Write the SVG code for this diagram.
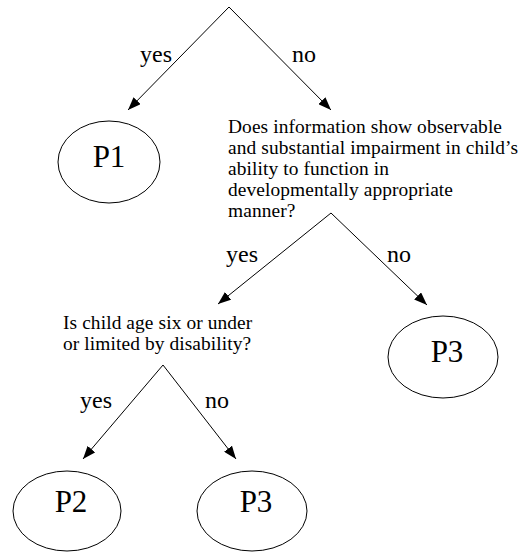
<svg xmlns="http://www.w3.org/2000/svg" width="522" height="552" viewBox="0 0 522 552">
  <style>
    .edge { stroke: #000; stroke-width: 1; fill: none; marker-end: url(#arrow); }
    .oval { fill: #fff; stroke: #000; stroke-width: 1; }
    .plabel { font-family: "Liberation Serif", "Times New Roman", serif; font-size: 31px; fill: #000; text-anchor: middle; }
    .elabel { font-family: "Liberation Serif", "Times New Roman", serif; font-size: 24px; fill: #000; }
    .question { font-family: "Liberation Serif", "Times New Roman", serif; font-size: 19.4px; letter-spacing: 0.1px; fill: #000; }
  </style>
  <defs>
    <marker id="arrow" markerUnits="userSpaceOnUse" markerWidth="14" markerHeight="10" refX="13" refY="5" orient="auto">
      <path d="M0,0 L13,5 L0,10 z" fill="#000"/>
    </marker>
  </defs>
  <rect width="522" height="552" fill="#fff"/>

  <!-- connectors with their yes/no labels -->
  <g id="connectors">
    <path class="edge" d="M229,7 L128,110"/>
    <path class="edge" d="M229,7 L331,110"/>
    <path class="edge" d="M331,213 L218,304"/>
    <path class="edge" d="M331,213 L427,305"/>
    <path class="edge" d="M163,365 L83,459"/>
    <path class="edge" d="M163,365 L236,459"/>
    <text class="elabel" x="140" y="62">yes</text>
    <text class="elabel" x="292" y="62">no</text>
    <text class="elabel" x="226" y="262">yes</text>
    <text class="elabel" x="387" y="262">no</text>
    <text class="elabel" x="80" y="408">yes</text>
    <text class="elabel" x="205" y="408">no</text>
  </g>

  <g id="p1">
    <ellipse class="oval" cx="109" cy="162" rx="51" ry="41"/>
    <text class="plabel" x="109" y="167">P1</text>
  </g>

  <g id="q-impairment">
    <text class="question" x="228" y="132.5">Does information show observable</text>
    <text class="question" x="228" y="153.5">and substantial impairment in child’s</text>
    <text class="question" x="228" y="174.5">ability to function in</text>
    <text class="question" x="228" y="195.5">developmentally appropriate</text>
    <text class="question" x="228" y="216.5">manner?</text>
  </g>

  <g id="p3-right">
    <ellipse class="oval" cx="443" cy="357" rx="55" ry="41"/>
    <text class="plabel" x="447" y="362">P3</text>
  </g>

  <g id="q-age">
    <text class="question" x="63" y="329">Is child age six or under</text>
    <text class="question" x="63" y="349.5">or limited by disability?</text>
  </g>

  <g id="p2">
    <ellipse class="oval" cx="67" cy="511" rx="54" ry="40"/>
    <text class="plabel" x="71" y="512">P2</text>
  </g>

  <g id="p3-bottom">
    <ellipse class="oval" cx="252" cy="511" rx="55" ry="40"/>
    <text class="plabel" x="256" y="512">P3</text>
  </g>
</svg>
